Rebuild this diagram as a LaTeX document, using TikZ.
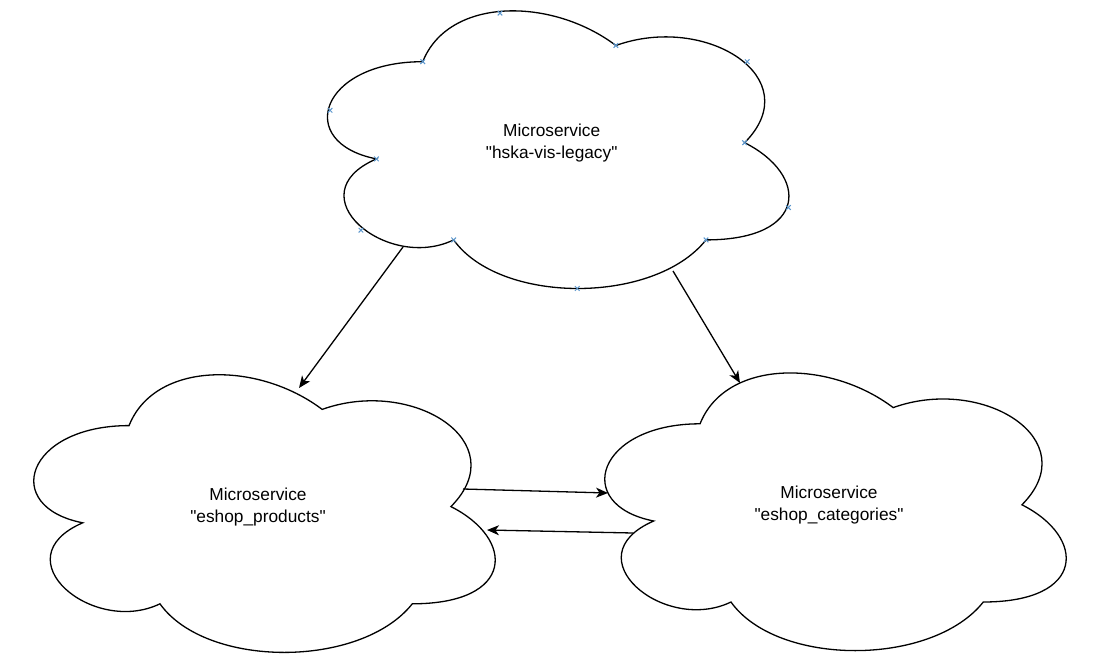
\documentclass[tikz,border=0pt]{standalone}
\usepackage{fontspec}
\newfontfamily\lsans{Liberation Sans}
\usetikzlibrary{arrows.meta}
\definecolor{cpblue}{RGB}{90,150,205}
\newcommand\drawcloud[2]{%
  \begin{scope}[shift={(#1.north west)}, x=515pt, y=-324pt]
    \draw[cloudline] (0.25,0.25)
      .. controls (0.05,0.25) and (0,0.5) .. (0.16,0.55)
      .. controls (0,0.66) and (0.18,0.9) .. (0.31,0.8)
      .. controls (0.4,1) and (0.7,1) .. (0.8,0.8)
      .. controls (1,0.8) and (1,0.6) .. (0.875,0.5)
      .. controls (1,0.3) and (0.8,0.1) .. (0.625,0.2)
      .. controls (0.5,0.05) and (0.3,0.05) .. (0.25,0.25) -- cycle;
    \ifx#2y
    \foreach \px/\py in {0.25/0.25,0.4/0.1,0.16/0.55,0.07/0.4,0.31/0.8,0.13/0.77,0.8/0.8,0.55/0.95,0.875/0.5,0.96/0.7,0.625/0.2,0.88/0.25}{
      \draw[cpmark] (\px,\py) ++(-2.3pt,-2.3pt) -- ++(4.6pt,4.6pt);
      \draw[cpmark] (\px,\py) ++(-2.3pt,2.3pt) -- ++(4.6pt,-4.6pt);
    }
    \fi
  \end{scope}}
\begin{document}
\begin{tikzpicture}[x=1pt,y=-1pt,
  cloudbox/.style={rectangle, minimum width=515pt, minimum height=324pt, inner sep=0pt, align=center,
    font=\lsans\fontsize{17.3}{22}\selectfont},
  cloudline/.style={draw=black, line width=1.3pt, fill=white},
  cpmark/.style={draw=cpblue, line width=1pt},
  conn/.style={draw=black, line width=1.3pt, -{Stealth[length=12pt,width=10pt,inset=3.5pt]}}]
\useasboundingbox[fill=white] (0,0) rectangle (1111,666);
\node[cloudbox] (top) at (551.7,142.9) {};
\node[cloudbox] (prod) at (258,506.8) {};
\node[cloudbox] (cat) at (829,505) {};
\drawcloud{top}{y}
\drawcloud{prod}{n}
\drawcloud{cat}{n}
\node[cloudbox] at (top.center) {Microservice\\"hska-vis-legacy"};
\node[cloudbox] at (prod.center) {Microservice\\"eshop\_products"};
\node[cloudbox] at (cat.center) {Microservice\\"eshop\_categories"};
\coordinate (a1s) at (403,247);
\coordinate (a1e) at (299,388);
\coordinate (a2s) at (673,271);
\coordinate (a2e) at (740,383);
\coordinate (a3s) at (463,489);
\coordinate (a3e) at (608,493);
\coordinate (a4s) at (633,533);
\coordinate (a4e) at (487,530);
\draw[conn] (a1s) -- (a1e);
\draw[conn] (a2s) -- (a2e);
\draw[conn] (a3s) -- (a3e);
\draw[conn] (a4s) -- (a4e);
\end{tikzpicture}
\end{document}
